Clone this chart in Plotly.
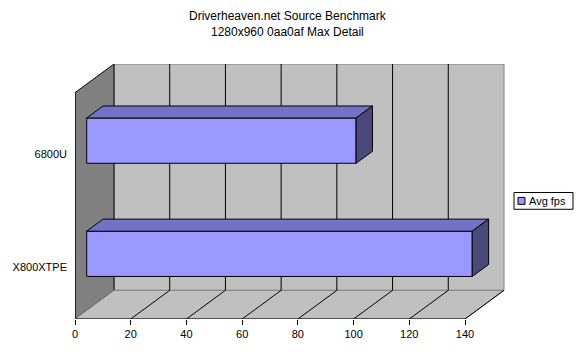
import plotly.graph_objects as go

# ---- data ----
categories = ["X800XTPE", "6800U"]          # bottom to top
avg_fps = [138.4, 96.7]
series_name = "Avg fps"
x_ticks = [0, 20, 40, 60, 80, 100, 120, 140]
title_lines = ["Driverheaven.net Source Benchmark", "1280x960 0aa0af Max Detail"]

# ---- pseudo-3D geometry (axis units) ----
XMAX = 140
DX = 14.0      # depth shift in x units
DY = 29.0      # depth shift in y units
WALL_H = 229.0
BAND = WALL_H / len(categories)
BAR_H = 0.4 * BAND
D0, D1 = 0.30, 0.72

FONT = "Liberation Sans, Arial, sans-serif"
FRONT = "#9999FF"
TOP = "#7272C6"
SIDE = "#4A4A7A"

fig = go.Figure()

centers = [(i + 0.5) * BAND for i in range(len(categories))]

# front faces of bars
fig.add_trace(go.Bar(
    x=avg_fps, y=[c + D0 * DY for c in centers], base=[D0 * DX] * len(avg_fps),
    width=BAR_H, orientation="h", name=series_name,
    marker=dict(color=FRONT, line=dict(color="black", width=1)),
    showlegend=False, hoverinfo="skip",
))

# top and side faces
for c, v in zip(centers, avg_fps):
    b0, t0 = c - BAR_H / 2 + D0 * DY, c + BAR_H / 2 + D0 * DY
    b1, t1 = c - BAR_H / 2 + D1 * DY, c + BAR_H / 2 + D1 * DY
    x0, x1 = D0 * DX, D1 * DX
    fig.add_trace(go.Scatter(
        x=[x0, v + x0, v + x1, x1, x0], y=[t0, t0, t1, t1, t0],
        fill="toself", fillcolor=TOP, mode="lines",
        line=dict(color="black", width=1), showlegend=False, hoverinfo="skip"))
    fig.add_trace(go.Scatter(
        x=[v + x0, v + x1, v + x1, v + x0, v + x0], y=[b0, b1, t1, t0, b0],
        fill="toself", fillcolor=SIDE, mode="lines",
        line=dict(color="black", width=1), showlegend=False, hoverinfo="skip"))

shapes = []
# back wall
shapes.append(dict(type="rect", xref="x", yref="y", x0=DX, x1=XMAX + DX, y0=DY, y1=DY + WALL_H,
                   fillcolor="#C0C0C0", line=dict(color="#808080", width=1), layer="below"))
# left wall
shapes.append(dict(type="path", xref="x", yref="y",
                   path=f"M0,0 L{DX},{DY} L{DX},{DY + WALL_H} L0,{WALL_H} Z",
                   fillcolor="#808080", line=dict(color="black", width=1), layer="below"))
# floor
shapes.append(dict(type="path", xref="x", yref="y",
                   path=f"M0,0 L{DX},{DY} L{XMAX + DX},{DY} L{XMAX},0 Z",
                   fillcolor="#C0C0C0", line=dict(color="#808080", width=1), layer="below"))
# gridlines
for v in x_ticks[1:]:
    shapes.append(dict(type="line", xref="x", yref="y", x0=v, y0=0, x1=v + DX, y1=DY,
                       line=dict(color="black", width=1), layer="below"))
    if v < XMAX:
        shapes.append(dict(type="line", xref="x", yref="y", x0=v + DX, y0=DY, x1=v + DX, y1=DY + WALL_H,
                           line=dict(color="black", width=1), layer="below"))
# front axes lines
shapes.append(dict(type="line", xref="x", yref="y", x0=0, y0=0, x1=XMAX, y1=0,
                   line=dict(color="black", width=1)))
shapes.append(dict(type="line", xref="x", yref="y", x0=0, y0=0, x1=0, y1=WALL_H,
                   line=dict(color="black", width=1)))
# category tick marks
for k in range(len(categories) + 1):
    shapes.append(dict(type="line", xref="x", yref="y", xsizemode="pixel", xanchor=0,
                       x0=-5, x1=0, y0=k * BAND, y1=k * BAND, line=dict(color="black", width=1)))

# manual legend
shapes.append(dict(type="rect", xref="paper", yref="paper",
                   x0=(514 - 75) / 430, x1=(573 - 75) / 430,
                   y0=(322 - 211) / 258, y1=(322 - 194) / 258,
                   fillcolor="white", line=dict(color="black", width=1)))
shapes.append(dict(type="rect", xref="paper", yref="paper",
                   x0=(518 - 75) / 430, x1=(525 - 75) / 430,
                   y0=(322 - 206) / 258, y1=(322 - 199) / 258,
                   fillcolor=FRONT, line=dict(color="black", width=1)))

annotations = [
    dict(text=series_name, xref="paper", yref="paper",
         x=(527 - 75) / 430, y=(322 - 202.5) / 258, xanchor="left", yanchor="middle",
         showarrow=False, font=dict(family=FONT, size=11, color="black")),
    dict(text="<br>".join(title_lines), xref="paper", yref="paper",
         x=(288 - 75) / 430, y=(322 - 6) / 258, xanchor="center", yanchor="top",
         showarrow=False, font=dict(family=FONT, size=12, color="black")),
]

fig.update_layout(
    width=579, height=352,
    margin=dict(l=75, r=74, t=64, b=30),
    paper_bgcolor="white", plot_bgcolor="white",
    xaxis=dict(range=[0, XMAX + DX + 0.36], tickvals=x_ticks, ticks="outside", ticklen=5,
               tickcolor="black", showgrid=False, zeroline=False, showline=False,
               tickfont=dict(family=FONT, size=11, color="black"), fixedrange=True),
    yaxis=dict(range=[0, 258], tickvals=centers, ticktext=categories, ticks="",
               showgrid=False, zeroline=False, showline=False, ticklabelstandoff=7,
               ticklabelshift=5,
               tickfont=dict(family=FONT, size=11, color="black"), fixedrange=True),
    shapes=shapes, annotations=annotations, showlegend=False,
)

fig.write_html("out.html")
